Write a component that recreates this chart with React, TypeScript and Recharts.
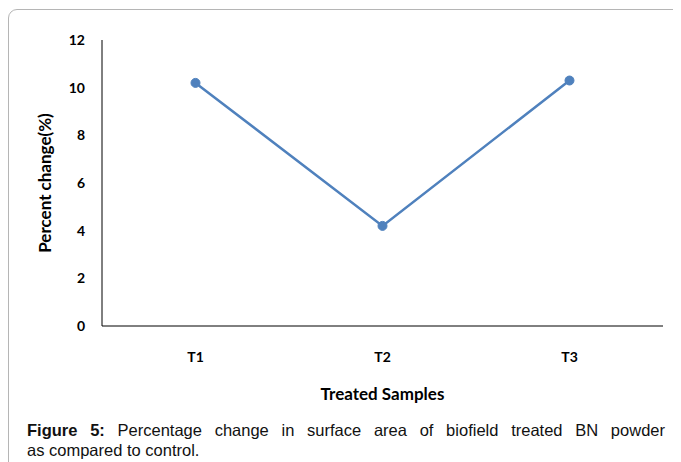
import React from 'react';
import { LineChart, Line, XAxis, YAxis } from 'recharts';

// values
const samples = ['T1', 'T2', 'T3'];
const percentChange = [10.2, 4.2, 10.3];
const yTicks = [0, 2, 4, 6, 8, 10, 12];

const data = samples.map((name, i) => ({ name, value: percentChange[i] }));

const LINE_COLOR = '#4F81BD';
const FONT = 'Lato, "DejaVu Sans", sans-serif';

const YTitle = ({ viewBox }: any) => {
  const cx = 36;
  const cy = viewBox.y + viewBox.height / 2;
  return (
    <text
      x={cx}
      y={cy}
      transform={`rotate(-90, ${cx}, ${cy})`}
      textAnchor="middle"
      dominantBaseline="central"
      fontFamily={FONT}
      fontWeight="bold"
      fontSize={17}
      fill="#000"
    >
      Percent change(%)
    </text>
  );
};

const XTitle = ({ viewBox }: any) => (
  <text
    x={viewBox.x + viewBox.width / 2}
    y={385}
    textAnchor="middle"
    dominantBaseline="central"
    fontFamily={FONT}
    fontWeight="bold"
    fontSize={17}
    fill="#000"
  >
    Treated Samples
  </text>
);

export default function App() {
  return (
    <div style={{ position: 'relative', width: 673, height: 454, overflow: 'hidden' }}>
      <div
        style={{
          position: 'absolute',
          left: 0,
          top: 1,
          width: 720,
          height: 520,
          border: '1px solid #b5b5b5',
          borderRadius: 9,
          boxSizing: 'border-box',
        }}
      />
      <div style={{ position: 'absolute', left: 0, top: 0 }}>
        <LineChart width={673} height={400} data={data} margin={{ top: 32, right: 18, left: 34, bottom: 52 }}>
          <XAxis
            dataKey="name"
            scale="band"
            axisLine={{ stroke: '#000', strokeWidth: 1 }}
            tickLine={false}
            tickSize={0}
            tickMargin={26}
            height={30}
            tick={{ fill: '#000', fontFamily: FONT, fontWeight: 'bold', fontSize: 14 }}
            label={<XTitle />}
          />
          <YAxis
            domain={[0, 12]}
            ticks={yTicks}
            width={60}
            axisLine={{ stroke: '#000', strokeWidth: 1 }}
            tickLine={false}
            tickSize={0}
            tickMargin={17}
            tick={{ fill: '#000', fontFamily: FONT, fontWeight: 'bold', fontSize: 14 }}
            label={<YTitle />}
          />
          <Line
            type="linear"
            dataKey="value"
            stroke={LINE_COLOR}
            strokeWidth={2.5}
            dot={{ r: 4.5, fill: LINE_COLOR, stroke: LINE_COLOR, strokeWidth: 1 }}
            activeDot={false}
            isAnimationActive={false}
          />
        </LineChart>
      </div>
      <div
        style={{
          position: 'absolute',
          left: 19,
          top: 412,
          width: 638,
          fontFamily: '"Liberation Sans", Arial, sans-serif',
          fontSize: 16.5,
          lineHeight: '20px',
          color: '#111',
        }}
      >
        <div style={{ textAlign: 'justify', textAlignLast: 'justify', whiteSpace: 'nowrap' }}>
          <b>Figure 5:</b> Percentage change in surface area of biofield treated BN powder
        </div>
        <div>as compared to control.</div>
      </div>
    </div>
  );
}
